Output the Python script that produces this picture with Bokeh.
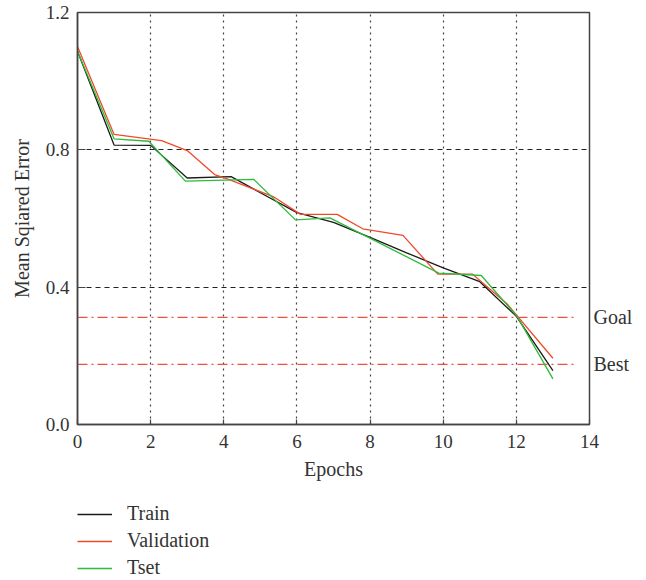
from bokeh.plotting import figure
from bokeh.layouts import column
from bokeh.models import Legend, LegendItem, LinearAxis, FixedTicker, PrintfTickFormatter
from bokeh.embed import file_html
from bokeh.resources import INLINE

# --- data ---
train_x = [0, 1, 2, 3, 4.2, 5, 6, 7, 8, 9, 10, 11, 12, 13]
train_y = [1.087, 0.814, 0.813, 0.718, 0.722, 0.675, 0.617, 0.589, 0.545, 0.500, 0.456, 0.416, 0.315, 0.157]

val_x = [0, 1, 2.3, 3, 3.75, 4.15, 5.35, 6.1, 7.1, 7.8, 8.9, 9.85, 10.8, 11.05, 11.75, 13]
val_y = [1.101, 0.845, 0.827, 0.798, 0.728, 0.713, 0.664, 0.612, 0.612, 0.570, 0.551, 0.438, 0.438, 0.415, 0.351, 0.193]

tset_x = [0, 1, 1.95, 2.95, 4.82, 5.96, 6.9, 9.88, 11.04, 12.02, 13]
tset_y = [1.087, 0.832, 0.825, 0.709, 0.714, 0.596, 0.602, 0.441, 0.434, 0.315, 0.133]

goal_value = 0.312
best_value = 0.175
ref_line_x = [0, 13.65]

x_ticks = [0, 2, 4, 6, 8, 10, 12, 14]
y_ticks = [0.0, 0.4, 0.8, 1.2]

series_names = ["Train", "Validation", "Tset"]
series_colors = ["#1a1a1a", "#f04a2a", "#2dbb3a"]

FONT = "Liberation Serif"
TXT = "#333333"
AX = "#444444"

p = figure(width=646, height=490, x_range=(0, 14), y_range=(0, 1.2),
           output_backend="svg", toolbar_location=None,
           min_border_left=77, min_border_right=57, min_border_top=12, min_border_bottom=66)

p.outline_line_color = AX
p.outline_line_width = 1.5
p.background_fill_color = "white"
p.border_fill_color = "white"

for ax in (p.xaxis[0], p.yaxis[0]):
    ax.axis_line_color = AX
    ax.axis_line_width = 1.5
    ax.major_tick_line_color = AX
    ax.major_tick_line_width = 1.2
    ax.major_tick_out = 0
    ax.minor_tick_line_color = None
    ax.major_label_text_font = FONT
    ax.major_label_text_font_size = "19px"
    ax.major_label_text_color = TXT
    ax.axis_label_text_font = FONT
    ax.axis_label_text_font_size = "20px"
    ax.axis_label_text_font_style = "normal"
    ax.axis_label_text_color = TXT

p.xaxis.ticker = FixedTicker(ticks=x_ticks)
p.yaxis.ticker = FixedTicker(ticks=y_ticks)
p.yaxis.formatter = PrintfTickFormatter(format="%.1f")
p.xaxis.major_tick_in = 5
p.yaxis.major_tick_in = 8
p.xaxis.major_label_standoff = 10
p.yaxis.major_label_standoff = 8
p.xaxis.axis_label = "Epochs"
p.yaxis.axis_label = "Mean Sqiared Error"
p.xaxis.axis_label_standoff = 7
p.yaxis.axis_label_standoff = 10

p.xgrid.grid_line_color = AX
p.xgrid.grid_line_dash = "2 4"
p.xgrid.grid_line_width = 1.2
p.ygrid.grid_line_color = "#222222"
p.ygrid.grid_line_dash = "5 4"
p.ygrid.grid_line_width = 1.1

# goal / best reference lines
p.line(ref_line_x, [goal_value, goal_value], line_color="#ee5040", line_width=1.3, line_dash="10 4 2 4")
p.line(ref_line_x, [best_value, best_value], line_color="#ee5040", line_width=1.3, line_dash="10 4 2 4")

series = [(train_x, train_y), (val_x, val_y), (tset_x, tset_y)]
for (xs, ys), c in zip(series, series_colors):
    p.line(xs, ys, line_color=c, line_width=1.3)

# Goal / Best labels as a right-hand axis
right = LinearAxis(ticker=FixedTicker(ticks=[best_value, goal_value]),
                   major_label_overrides={best_value: "Best", goal_value: "Goal"},
                   axis_line_color=None, major_tick_line_color=None, minor_tick_line_color=None,
                   major_tick_in=0, major_tick_out=0, major_label_standoff=4,
                   major_label_text_font=FONT, major_label_text_font_size="20px",
                   major_label_text_color=TXT)
p.add_layout(right, "right")

# legend panel below the chart (its own renderers sit outside its visible range)
q = figure(width=646, height=90, x_range=(100, 101), y_range=(100, 101),
           output_backend="svg", toolbar_location=None,
           min_border=0, min_border_left=0, min_border_right=0, min_border_top=0, min_border_bottom=0)
q.axis.visible = False
q.grid.grid_line_color = None
q.outline_line_color = None
items = []
for name, (xs, ys), c in zip(series_names, series, series_colors):
    r = q.line(xs, ys, line_color=c, line_width=1.3)
    items.append(LegendItem(label=name, renderers=[r]))

legend = Legend(items=items, location=(0, 1), orientation="vertical",
                label_text_font=FONT, label_text_font_size="20px", label_text_color=TXT,
                glyph_width=35, glyph_height=20, label_height=20, label_standoff=15,
                spacing=4, padding=0, margin=0,
                border_line_color=None, background_fill_alpha=0)
q.add_layout(legend, "center")

layout = column(p, q, spacing=0)
open("out.html", "w").write(file_html(layout, INLINE))
